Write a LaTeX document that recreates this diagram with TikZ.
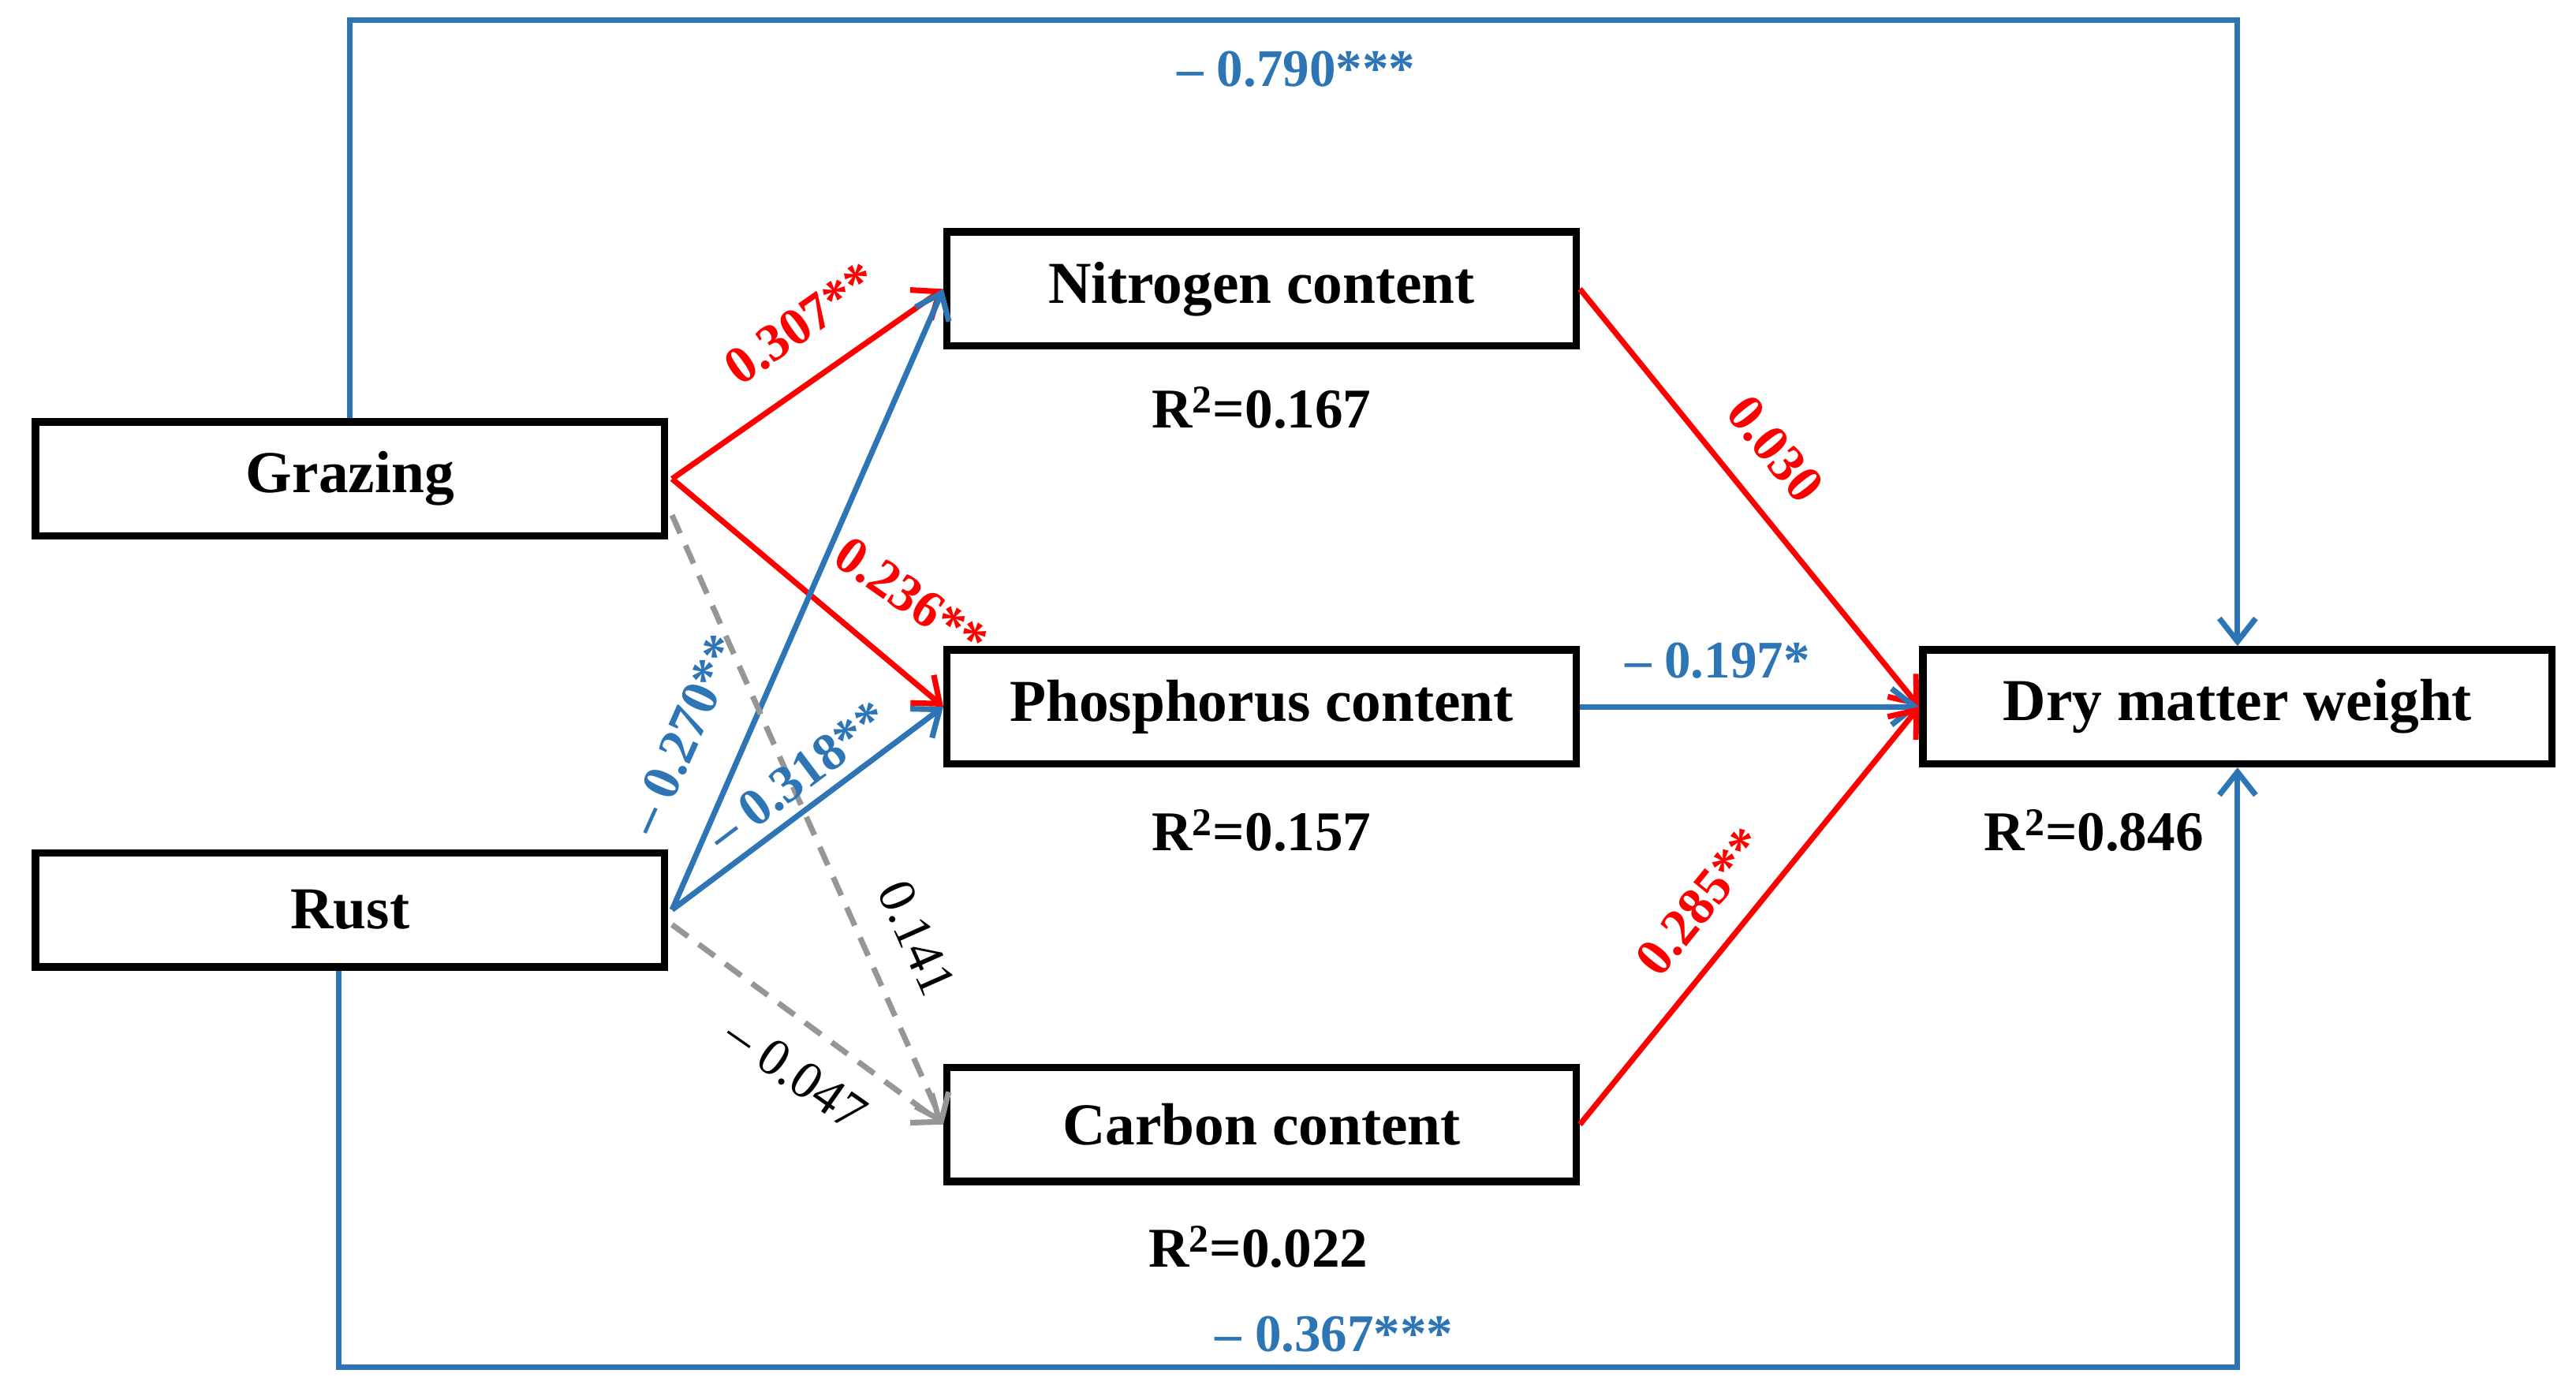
\documentclass[tikz,border=0pt]{standalone}
\usepackage{fontspec}
\setmainfont{Liberation Serif}
\usetikzlibrary{arrows.meta}
\definecolor{bl}{RGB}{46,117,182}
\definecolor{rd}{RGB}{255,0,0}
\definecolor{gr}{RGB}{150,150,150}
\begin{document}
\begin{tikzpicture}[x=1pt,y=-1pt,
 box/.style={draw,line width=4.5pt,minimum width=381pt,minimum height=69pt,font=\fontsize{36}{38}\selectfont\bfseries,inner sep=0pt},
 arr/.style={line width=3.4pt,-{Straight Barb[length=14pt,width=22pt,line width=3.4pt]}},
 lb/.style={font=\fontsize{32}{34}\selectfont\bfseries,inner sep=1pt},
 lg/.style={font=\fontsize{32}{34}\selectfont,inner sep=1pt},
 rr/.style={font=\fontsize{34}{36}\selectfont\bfseries}]
\useasboundingbox (0,0) rectangle (1560,836);
\node[box] (g) at (212,290) {Grazing};
\node[box] (r) at (212,551) {Rust};
\node[box] (n) at (764,175) {Nitrogen content};
\node[box] (p) at (764,428) {Phosphorus content};
\node[box] (c) at (764,681) {Carbon content};
\node[box] (d) at (1355,428) {Dry matter weight};
\coordinate (g1) at (407,290);
\coordinate (g2) at (407,312);
\coordinate (r1) at (407,551);
\coordinate (r2) at (407,560);
\draw[arr,rd] (g1) -- (n.west);
\draw[arr,rd] (g1) -- (p.west);
\draw[arr,bl] (r1) -- (n.west);
\draw[arr,bl] (r1) -- (p.west);
\draw[arr,gr,dashed,dash pattern=on 12pt off 8pt] (g2) -- (c.west);
\draw[arr,gr,dashed,dash pattern=on 12pt off 8pt] (r2) -- (c.west);
\draw[arr,rd] (n.east) -- (d.west);
\draw[arr,bl] (p.east) -- (d.west);
\draw[arr,rd] (c.east) -- (d.west);
\draw[arr,bl] (g.north) -- (212,12) -| (d.north);
\draw[arr,bl] (205,588) -- (205,828) -| (d.south);
\node[lb,rd,rotate=35] (l1) at (485,196) {0.307**};
\node[lb,rd,rotate=-35] (l2) at (552,362) {0.236**};
\node[lb,bl,rotate=66] (l3) at (414,445) {\textendash\ 0.270**};
\node[lb,bl,rotate=37] (l4) at (483,470) {\textendash\ 0.318**};
\node[lg,rotate=-66] (l5) at (555,568) {0.141};
\node[lg,rotate=-35] (l6) at (482,650) {\textendash\ 0.047};
\node[lb,rd,rotate=-51] (l7) at (1075,272) {0.030};
\node[lb,bl] (l8) at (1040,400) {\textendash\ 0.197*};
\node[lb,rd,rotate=51] (l9) at (1030,546) {0.285**};
\node[lb,bl] (l10) at (785,42) {\textendash\ 0.790***};
\node[lb,bl] (l11) at (808,808) {\textendash\ 0.367***};
\node[rr] (q1) at (764,247) {R\textsuperscript{2}=0.167};
\node[rr] (q2) at (764,503) {R\textsuperscript{2}=0.157};
\node[rr] (q3) at (762,755) {R\textsuperscript{2}=0.022};
\node[rr] (q4) at (1268,503) {R\textsuperscript{2}=0.846};
\end{tikzpicture}
\end{document}
